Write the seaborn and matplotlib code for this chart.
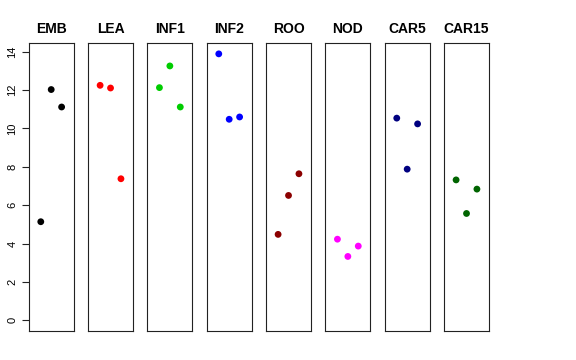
import numpy as np
import pandas as pd
import matplotlib
matplotlib.use("Agg")
import matplotlib.pyplot as plt
import seaborn as sns

sns.set_style("white")
plt.rcParams['font.family'] = ['Liberation Sans', 'DejaVu Sans']
plt.rcParams['text.color'] = 'black'
plt.rcParams['ytick.color'] = 'black'
plt.rcParams['axes.labelcolor'] = 'black'

tissues = ["EMB", "LEA", "INF1", "INF2", "ROO", "NOD", "CAR5", "CAR15"]
colors = ["#000000", "#FF0000", "#00CD00", "#0000FF", "#8B0000", "#FF00FF", "#000080", "#006400"]
replicate = [1, 2, 3]
EMB = [5.14, 12.03, 11.12]
LEA = [12.25, 12.11, 7.38]
INF1 = [12.13, 13.26, 11.12]
INF2 = [13.89, 10.48, 10.60]
ROO = [4.48, 6.51, 7.64]
NOD = [4.23, 3.33, 3.87]
CAR5 = [10.54, 7.88, 10.24]
CAR15 = [7.32, 5.57, 6.84]
values = [EMB, LEA, INF1, INF2, ROO, NOD, CAR5, CAR15]
yticks = [0, 2, 4, 6, 8, 10, 12, 14]

rows = []
for t, v in zip(tissues, values):
    for r, y in zip(replicate, v):
        rows.append({"tissue": t, "rep": r, "expr": y})
df = pd.DataFrame(rows)

fig = plt.figure(figsize=(5.76, 3.6), dpi=100)
W, H = 576, 360
left0, pw, step = 28.7, 45.0, 59.33
top, bottom = 43.0, 331.0
ymax = 13.9
ylim = (-0.04 * ymax, ymax * 1.04)
xlim = (-0.16, 4.16)

for i, (t, c) in enumerate(zip(tissues, colors)):
    x0 = left0 + i * step
    ax = fig.add_axes([x0 / W, 1 - bottom / H, pw / W, (bottom - top) / H])
    sub = df[df.tissue == t]
    sns.scatterplot(data=sub, x="rep", y="expr", color=c, s=24, edgecolor="none",
                    ax=ax, legend=False)
    ax.set_xlim(*xlim)
    ax.set_ylim(*ylim)
    ax.set_xticks([])
    ax.set_xlabel("")
    ax.set_ylabel("")
    for sp in ax.spines.values():
        sp.set_visible(True)
        sp.set_color("#222222")
        sp.set_linewidth(0.8)
    ax.set_title(t, fontsize=10, fontweight="bold", pad=7, color="black")
    if i == 0:
        ax.set_yticks(yticks)
        ax.set_yticklabels([str(v) for v in yticks], rotation=90, va="center",
                           fontsize=8, color="black")
        ax.tick_params(axis="y", left=True, length=5, width=0.8, color="#222222", pad=3)
    else:
        ax.set_yticks([])

fig.savefig("out.png", dpi=100)
